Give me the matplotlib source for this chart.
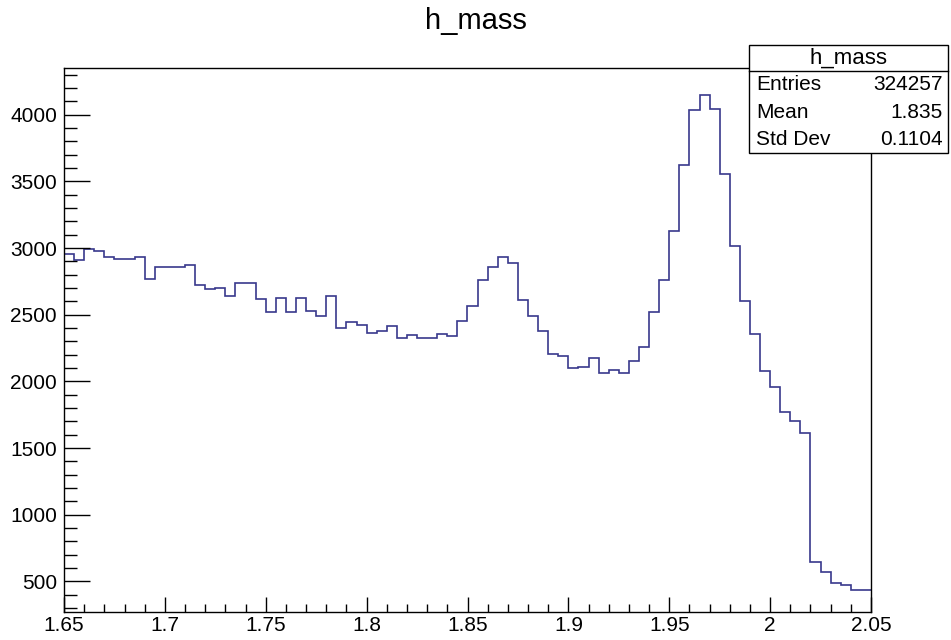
import numpy as np
import matplotlib.pyplot as plt
from matplotlib.ticker import MultipleLocator
from matplotlib.patches import Rectangle

plt.rcParams['font.family'] = ['Liberation Sans', 'DejaVu Sans']

# histogram h_mass: 80 bins from 1.65 to 2.05
x_lo, x_hi, n_bins = 1.65, 2.05, 80
counts = [2957, 2907, 2995, 2977, 2932, 2920, 2920, 2932, 2770, 2857,
          2857, 2857, 2870, 2725, 2695, 2702, 2637, 2740, 2740, 2617,
          2520, 2627, 2520, 2627, 2530, 2487, 2640, 2402, 2442, 2425,
          2365, 2377, 2415, 2325, 2347, 2325, 2325, 2357, 2337, 2455,
          2562, 2760, 2857, 2932, 2890, 2607, 2490, 2377, 2205, 2192,
          2097, 2107, 2172, 2065, 2082, 2065, 2152, 2257, 2520, 2757,
          3127, 3620, 4037, 4150, 4040, 3552, 3012, 2600, 2357, 2075,
          1957, 1770, 1705, 1610, 645, 570, 490, 470, 432, 432]

stat_names = ['Entries', 'Mean', 'Std Dev']
stat_values = ['324257', '1.835', '0.1104']
hist_name = 'h_mass'

edges = np.linspace(x_lo, x_hi, n_bins + 1)

fig = plt.figure(figsize=(9.51, 6.40), dpi=100)
ax = fig.add_axes([64 / 951, 28 / 640, 807 / 951, 544 / 640])

ax.stairs(counts, edges, baseline=None, color='#38388c', linewidth=1.2)

ax.set_xlim(x_lo, x_hi)
ax.set_ylim(270, 4350)

# ROOT-like axes: ticks inside, only bottom and left
ax.xaxis.set_major_locator(MultipleLocator(0.05))
ax.xaxis.set_minor_locator(MultipleLocator(0.01))
ax.yaxis.set_major_locator(MultipleLocator(500))
ax.yaxis.set_minor_locator(MultipleLocator(100))
ax.xaxis.set_major_formatter(plt.FuncFormatter(lambda v, p: ('%.2f' % v).rstrip('0').rstrip('.')))
ax.tick_params(axis='x', which='major', direction='in', length=11, width=1, labelsize=15, pad=3)
ax.tick_params(axis='x', which='minor', direction='in', length=5.5, width=1)
ax.tick_params(axis='y', which='major', direction='in', length=19, width=1, labelsize=15, pad=5)
ax.tick_params(axis='y', which='minor', direction='in', length=9.5, width=1)
for s in ax.spines.values():
    s.set_linewidth(1)

fig.text(0.5, 1 - 21 / 640, hist_name, ha='center', va='center', fontsize=21)

# stats box
bx0, bx1 = 749 / 951, 948 / 951
by_top, by_sep, by_bot = 1 - 45 / 640, 1 - 71 / 640, 1 - 153 / 640
fig.patches.append(Rectangle((bx0, by_bot), bx1 - bx0, by_top - by_bot, transform=fig.transFigure,
                             facecolor='white', edgecolor='black', linewidth=1, zorder=5))
fig.lines.append(plt.Line2D([bx0, bx1], [by_sep, by_sep], transform=fig.transFigure,
                            color='black', linewidth=1, zorder=6))
fig.text((bx0 + bx1) / 2, (by_top + by_sep) / 2, hist_name, ha='center', va='center',
         fontsize=16, zorder=7)
row_h = (by_sep - by_bot) / 3
for i, (nm, val) in enumerate(zip(stat_names, stat_values)):
    yy = by_sep - row_h * (i + 0.5)
    fig.text(bx0 + 7 / 951, yy, nm, ha='left', va='center', fontsize=15, zorder=7)
    fig.text(bx1 - 5 / 951, yy, val, ha='right', va='center', fontsize=15, zorder=7)

fig.savefig('out.png', dpi=100)
